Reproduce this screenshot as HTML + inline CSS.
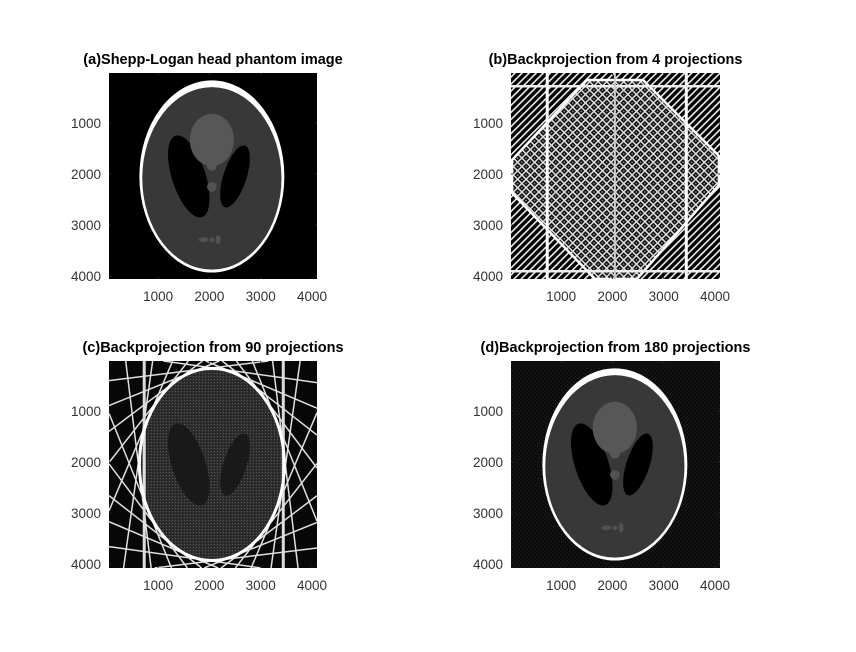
<!DOCTYPE html>
<html><head><meta charset="utf-8"><style>
html,body{margin:0;padding:0;background:#fff;width:856px;height:652px;overflow:hidden}
svg{display:block}
text{font-family:"Liberation Sans",Arial,sans-serif}
</style></head><body>
<svg id="fig" width="856" height="652" viewBox="0 0 856 652">
<defs>
  <pattern id="diagA" width="5" height="5" patternUnits="userSpaceOnUse" patternTransform="rotate(45)">
    <rect width="5" height="5" fill="#000"/><rect width="1.6" height="5" fill="#eee"/>
  </pattern>
  <pattern id="cross" width="6" height="6" patternUnits="userSpaceOnUse" patternTransform="rotate(45)">
    <rect width="6" height="6" fill="#111"/><rect width="1.5" height="6" fill="#ddd"/><rect width="6" height="1.5" fill="#ddd"/>
    <circle cx="3.8" cy="3.8" r="0.9" fill="#888"/>
  </pattern>
  <pattern id="noise" width="4" height="4" patternUnits="userSpaceOnUse">
    <rect width="4" height="4" fill="#0c0c0c"/><rect x="1" y="2" width="1" height="1" fill="#2a2a2a"/><rect x="3" y="0" width="1" height="1" fill="#222"/>
  </pattern>
  <pattern id="noiseC" width="3" height="3" patternUnits="userSpaceOnUse">
    <rect width="3" height="3" fill="#2e2e2e"/><rect x="1" y="1" width="1" height="1" fill="#555"/><rect x="2" y="0" width="1" height="1" fill="#1c1c1c"/>
  </pattern>
  <clipPath id="clipA"><rect x="109" y="73" width="208" height="206"/></clipPath>
  <clipPath id="clipB"><rect x="511" y="73" width="209" height="206"/></clipPath>
  <clipPath id="clipC"><rect x="109" y="361" width="208" height="207"/></clipPath>
  <clipPath id="clipD"><rect x="511" y="361" width="209" height="207"/></clipPath>
</defs>
<g id="root"></g>
</svg>
<script>
// ---- data ----
const xTicks = [1000, 2000, 3000, 4000];
const yTicks = [1000, 2000, 3000, 4000];
const xTickLabels = ["1000", "2000", "3000", "4000"];
const yTickLabels = ["1000", "2000", "3000", "4000"];
const panelTitles = ["(a)Shepp-Logan head phantom image", "(b)Backprojection from 4 projections",
  "(c)Backprojection from 90 projections", "(d)Backprojection from 180 projections"];
// Modified Shepp-Logan ellipses: a, b, x0, y0, phi(deg), displayed intensity
const ellA = [0.69, 0.6624, 0.11, 0.16, 0.21, 0.046, 0.046, 0.046, 0.023, 0.023];
const ellB = [0.92, 0.874, 0.31, 0.41, 0.25, 0.046, 0.046, 0.023, 0.023, 0.046];
const ellX = [0, 0, 0.22, -0.22, 0, 0, 0, -0.08, 0, 0.06];
const ellY = [0, -0.0184, 0, 0, 0.35, 0.1, -0.1, -0.605, -0.606, -0.605];
const ellPhi = [0, 0, -18, 18, 0, 0, 0, 0, 0, 0];
const ellLevel = [1.0, 0.22, 0.0, 0.0, 0.34, 0.34, 0.32, 0.32, 0.32, 0.32];
const imgSize = 4096;

const NS = "http://www.w3.org/2000/svg";
const root = document.getElementById("root");
function mk(tag, attrs, parent) {
  const e = document.createElementNS(NS, tag);
  for (const k in attrs) e.setAttribute(k, attrs[k]);
  (parent || root).appendChild(e);
  return e;
}
const panels = [
  {l:109, t:73, w:208, h:206, ox:106.8, oy:72, clip:"clipA"},
  {l:511, t:73, w:209, h:206, ox:509.8, oy:72, clip:"clipB"},
  {l:109, t:361, w:208, h:207, ox:106.8, oy:360, clip:"clipC"},
  {l:511, t:361, w:209, h:207, ox:509.8, oy:360, clip:"clipD"}
];
const sx = 0.0513, sy = 0.051;
function gray(v){const c=Math.round(Math.max(0,Math.min(1,v))*255);return `rgb(${c},${c},${c})`;}

function drawPhantom(g, p) {
  const c = imgSize/2, s = imgSize/2;
  for (let i = 0; i < ellA.length; i++) {
    const cx = p.ox + (c + ellX[i]*s)*sx;
    const cy = p.oy + (c - ellY[i]*s)*sy;
    const el = mk("ellipse", {cx:cx, cy:cy, rx:ellA[i]*s*sx, ry:ellB[i]*s*sy,
      transform:`rotate(${-ellPhi[i]} ${cx} ${cy})`, fill:gray(ellLevel[i])}, g);
    
    
  }
}
function clipSeg(x1,y1,x2,y2,r){
  let t0=0,t1=1;const dx=x2-x1,dy=y2-y1;
  const P=[-dx,dx,-dy,dy],Q=[x1-r.l,r.l+r.w-x1,y1-r.t,r.t+r.h-y1];
  for(let i=0;i<4;i++){
    if(P[i]===0){if(Q[i]<0)return null;}
    else{const t=Q[i]/P[i];if(P[i]<0){if(t>t1)return null;if(t>t0)t0=t;}else{if(t<t0)return null;if(t<t1)t1=t;}}
  }
  return [x1+t0*dx,y1+t0*dy,x1+t1*dx,y1+t1*dy];
}

panels.forEach((p, k) => {
  const g = mk("g", {});
  
  
  const img = mk("g", {"clip-path": `url(#${p.clip})`}, g);
  
  
  const c = imgSize/2, s = imgSize/2;
  const pcx = p.ox + c*sx, pcy = p.oy + c*sy;
  if (k === 0) {
    mk("rect", {x:p.l, y:p.t, width:p.w, height:p.h, fill:"#000"}, img);
    drawPhantom(img, p);
  } else if (k === 3) {
    mk("rect", {x:p.l, y:p.t, width:p.w, height:p.h, fill:"url(#noise)"}, img);
    drawPhantom(img, p);
  } else if (k === 1) {
    mk("rect", {x:p.l, y:p.t, width:p.w, height:p.h, fill:"url(#diagA)"}, img);
    const pts = [[587,80],[643,80],[719,156],[719,185],[637,279],[595,279],[512,193],[512,160]];
    mk("polygon", {points:pts.map(q=>q.join(",")).join(" "), fill:"url(#cross)", stroke:"#fff", "stroke-width":2.5}, img);
    const L = p.ox + 700*sx, R = p.ox + 3450*sx;
    mk("rect", {x:L, y:p.t, width:3, height:p.h, fill:"#fff"}, img);
    mk("rect", {x:R-2, y:p.t, width:3, height:p.h, fill:"#fff"}, img);
    mk("rect", {x:p.l, y:p.t+12, width:p.w, height:2.5, fill:"#eee"}, img);
    mk("rect", {x:p.l, y:p.t+p.h-9, width:p.w, height:2.5, fill:"#eee"}, img);
    mk("rect", {x:pcx-1, y:p.t, width:2, height:p.h, fill:"#ccc"}, img);
  } else {
    mk("rect", {x:p.l, y:p.t, width:p.w, height:p.h, fill:"#080808"}, img);
    mk("ellipse", {cx:pcx, cy:pcy, rx:0.69*s*sx, ry:0.92*s*sy, fill:"url(#noiseC)"}, img);
    [2,3].forEach(i=>{
      const cx = p.ox + (c + ellX[i]*s)*sx, cy = p.oy + (c - ellY[i]*s)*sy;
      mk("ellipse", {cx:cx, cy:cy, rx:ellA[i]*s*sx, ry:ellB[i]*s*sy, transform:`rotate(${-ellPhi[i]} ${cx} ${cy})`, fill:"#151515", "fill-opacity":0.85}, img);
    });
    const rx = 0.69*s*sx, ry = 0.92*s*sy;
    for (let a = 0; a < 180; a += 15) {
      const th = (a+8)*Math.PI/180;
      const nx = Math.cos(th), ny = Math.sin(th);
      const d = Math.sqrt(rx*rx*nx*nx + ry*ry*ny*ny);
      [1,-1].forEach(sg=>{
        const px0 = pcx + sg*nx*d, py0 = pcy + sg*ny*d;
        const seg = clipSeg(px0 - ny*300, py0 + nx*300, px0 + ny*300, py0 - nx*300, p);
        if (seg) mk("line", {x1:seg[0], y1:seg[1], x2:seg[2], y2:seg[3], stroke:"#e0e0e0", "stroke-width":1.5}, img);
      });
    }
    mk("rect", {x:p.ox+700*sx, y:p.t, width:3, height:p.h, fill:"#ddd"}, img);
    mk("rect", {x:p.ox+3450*sx-2, y:p.t, width:3, height:p.h, fill:"#ddd"}, img);
    mk("ellipse", {cx:pcx, cy:pcy, rx:rx, ry:ry, fill:"none", stroke:"#fff", "stroke-width":3}, img);
  }
  const ax = mk("g", {stroke:"#262626", "stroke-width":1}, g);
  
  
  xTicks.forEach((v, i) => {
    const x = p.ox + v*sx;
    mk("line", {x1:x, y1:p.t+p.h, x2:x, y2:p.t+p.h-2}, ax);
    mk("line", {x1:x, y1:p.t, x2:x, y2:p.t+2}, ax);
    const t = mk("text", {x:x, y:p.t+p.h+22, "text-anchor":"middle", "font-size":13.5, fill:"#333", stroke:"none"}, g);
    t.textContent = xTickLabels[i];
    
    
  });
  yTicks.forEach((v, i) => {
    const y = p.oy + v*sy;
    mk("line", {x1:p.l, y1:y, x2:p.l+2, y2:y}, ax);
    mk("line", {x1:p.l+p.w, y1:y, x2:p.l+p.w-2, y2:y}, ax);
    const t = mk("text", {x:p.l-8, y:y+5, "text-anchor":"end", "font-size":13.5, fill:"#333", stroke:"none"}, g);
    t.textContent = yTickLabels[i];
    
    
  });
  const tt = mk("text", {x:p.l+p.w/2, y:p.t-9, "text-anchor":"middle", "font-size":14.5, "font-weight":"bold", fill:"#000"}, g);
  tt.textContent = panelTitles[k];
  
  
});
</script>
</body></html>
